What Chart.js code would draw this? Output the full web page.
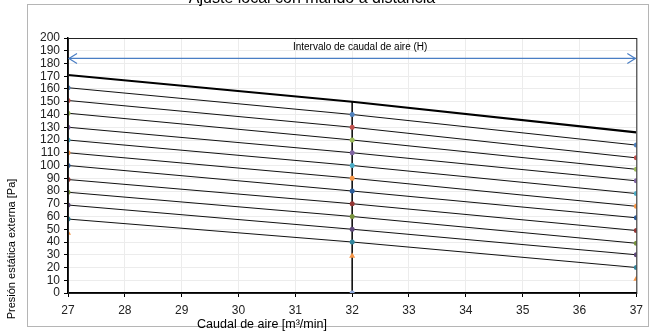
<!DOCTYPE html>
<html>
<head>
<meta charset="utf-8">
<script src="https://cdn.jsdelivr.net/npm/chart.js@4.4.1/dist/chart.umd.min.js"></script>
<style>
  html, body { margin: 0; padding: 0; background: #fff; }
  #wrap { width: 649px; height: 333px; position: relative; }
</style>
</head>
<body>
<div id="wrap"><canvas id="chart" width="649" height="333"></canvas></div>
<script>
// 風量 (m3/min)
var caudal = [27, 32, 37];

// 太線（上限）
var limiteSuperior = [171, 150, 126];

// 細線（各設定）
var curvas = [
    [161, 140, 116],
    [151, 130, 106],
    [141, 120, 97],
    [130, 110, 88],
    [120, 100, 78],
    [110, 90, 68],
    [100, 80, 59],
    [89, 70, 49],
    [79, 60, 39],
    [69, 50, 30],
    [58, 40, 20]
];
var coloresCurvas = ['#4F81BD', '#C0504D', '#9BBB59', '#8064A2', '#4BACC6', '#F79646',
                     '#2C5D9A', '#943634', '#76923C', '#5F497A', '#31859C'];

// 下限（三角マーカー）
var limiteInferior = [47, 29, 11];

// 縦線 (x=32)
var lineaVerticalX = [32, 32];
var lineaVerticalY = [0, 150];

// 矢印（風量範囲）
var flechaX = [27, 37];
var flechaY = 184;

var titulo = 'Ajuste local con mando a distancia';
var tituloX = 'Caudal de aire [m³/min]';
var tituloY = 'Presión estática externa [Pa]';
var textoFlecha = 'Intervalo de caudal de aire (H)';

function puntos(xs, ys) {
    var pts = [];
    for (var i = 0; i < xs.length; i++) {
        pts.push({ x: xs[i], y: ys[i] });
    }
    return pts;
}

var datasets = [];

// 矢印の線
datasets.push({
    label: 'flecha',
    data: puntos(flechaX, [flechaY, flechaY]),
    showLine: true,
    borderColor: '#4A7EC4',
    borderWidth: 1.2,
    pointRadius: 0,
    order: 5
});

// 縦線
datasets.push({
    label: 'vertical',
    data: puntos(lineaVerticalX, lineaVerticalY),
    showLine: true,
    borderColor: '#000',
    borderWidth: 1.5,
    pointRadius: [2.5, 0],
    pointBackgroundColor: '#8EA9DB',
    pointBorderWidth: 0,
    order: 4
});

// 太線
datasets.push({
    label: 'superior',
    data: puntos(caudal, limiteSuperior),
    showLine: true,
    borderColor: '#000',
    borderWidth: 2.2,
    pointRadius: 0,
    order: 3
});

// 細線
for (var i = 0; i < curvas.length; i++) {
    datasets.push({
        label: 'curva' + (i + 1),
        data: puntos(caudal, curvas[i]),
        showLine: true,
        borderColor: '#111',
        borderWidth: 1,
        pointRadius: 2.5,
        pointBackgroundColor: coloresCurvas[i],
        pointBorderWidth: 0,
        order: 2
    });
}

// 三角マーカー
datasets.push({
    label: 'inferior',
    data: puntos(caudal, limiteInferior),
    showLine: false,
    pointStyle: 'triangle',
    pointRadius: 3.5,
    pointBackgroundColor: '#F79646',
    pointBorderWidth: 0,
    order: 1
});

// 枠・タイトル・矢印の先端を描くプラグイン
var decoraciones = {
    id: 'decoraciones',
    beforeDraw: function (chart) {
        var ctx = chart.ctx;
        ctx.save();
        ctx.fillStyle = '#fff';
        ctx.fillRect(0, 0, chart.width, chart.height);
        ctx.strokeStyle = '#b5b5b5';
        ctx.lineWidth = 1;
        ctx.strokeRect(27.5, 4.5, 621, 322);
        ctx.restore();
    },
    afterDraw: function (chart) {
        var ctx = chart.ctx;
        var a = chart.chartArea;
        var sx = chart.scales.x;
        var sy = chart.scales.y;
        ctx.save();

        // プロット枠
        ctx.strokeStyle = '#222';
        ctx.lineWidth = 1;
        ctx.strokeRect(a.left + 0.5, a.top + 0.5, a.right - a.left, a.bottom - a.top);

        // 矢印の先端
        var y = sy.getPixelForValue(flechaY);
        var x0 = sx.getPixelForValue(flechaX[0]);
        var x1 = sx.getPixelForValue(flechaX[1]);
        ctx.strokeStyle = '#4A7EC4';
        ctx.lineWidth = 1.2;
        ctx.beginPath();
        ctx.moveTo(x0 + 9, y - 5);
        ctx.lineTo(x0 + 1, y);
        ctx.lineTo(x0 + 9, y + 5);
        ctx.moveTo(x1 - 9, y - 5);
        ctx.lineTo(x1 - 1, y);
        ctx.lineTo(x1 - 9, y + 5);
        ctx.stroke();

        // 矢印のラベル
        ctx.fillStyle = '#000';
        ctx.font = '10px "Liberation Sans", sans-serif';
        ctx.textAlign = 'center';
        ctx.textBaseline = 'middle';
        ctx.fillText(textoFlecha, (x0 + x1) / 2 + 8, y - 11);

        // タイトル（上が切れている）
        ctx.font = '16px "Liberation Sans", sans-serif';
        ctx.textBaseline = 'alphabetic';
        ctx.fillText(titulo, 312, 3);

        // 軸タイトル
        ctx.font = '12.5px "Liberation Sans", sans-serif';
        ctx.textBaseline = 'middle';
        ctx.fillText(tituloX, 262, 325);

        ctx.font = '11px "Liberation Sans", sans-serif';
        ctx.translate(12, 249);
        ctx.rotate(-Math.PI / 2);
        ctx.fillText(tituloY, 0, 0);
        ctx.restore();
    }
};

var config = {
    type: 'scatter',
    data: { datasets: datasets },
    options: {
        responsive: false,
        animation: false,
        layout: { padding: { left: 27, right: 9, top: 38, bottom: 0 } },
        plugins: {
            legend: { display: false },
            tooltip: { enabled: false }
        },
        elements: { line: { tension: 0 } },
        scales: {
            x: {
                type: 'linear',
                min: 27,
                max: 37,
                ticks: {
                    stepSize: 1,
                    autoSkip: false,
                    color: '#222',
                    font: { family: 'Liberation Sans', size: 12 },
                    padding: 6
                },
                grid: { color: '#ececec', tickColor: '#000', tickLength: 4 },
                border: { color: '#000', width: 1.5 },
                afterFit: function (scale) { scale.height = 40; }
            },
            y: {
                type: 'linear',
                min: 0,
                max: 200,
                ticks: {
                    stepSize: 10,
                    autoSkip: false,
                    color: '#222',
                    font: { family: 'Liberation Sans', size: 12 },
                    padding: 4
                },
                grid: { color: '#ececec', tickColor: '#000', tickLength: 4 },
                border: { color: '#000', width: 1.5 },
                afterFit: function (scale) { scale.width = 41; }
            }
        }
    },
    plugins: [decoraciones]
};

new Chart(document.getElementById('chart').getContext('2d'), config);
</script>
</body>
</html>
